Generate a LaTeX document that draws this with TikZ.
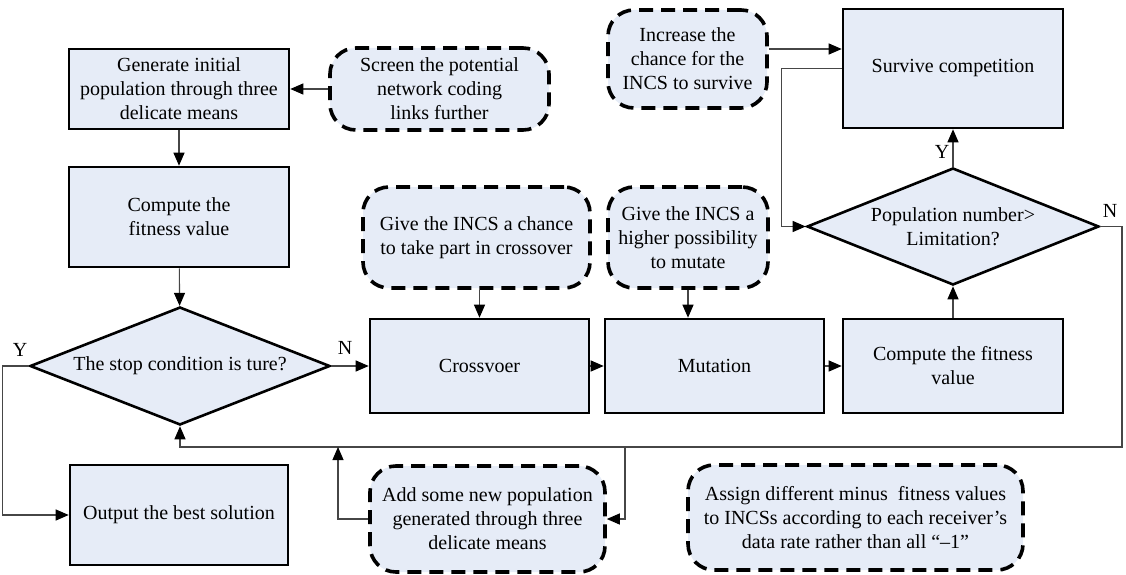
\documentclass[tikz,border=0pt]{standalone}
\usepackage{fontspec}
\setmainfont{Liberation Serif}
\newfontfamily\diagfont{Liberation Serif}
\usetikzlibrary{shapes.geometric,arrows.meta}
\definecolor{boxfill}{RGB}{230,236,247}
\definecolor{wire}{RGB}{70,70,70}
\begin{document}
\begin{tikzpicture}[x=1pt,y=-1pt,
  font=\diagfont\fontsize{20}{24}\selectfont,
  procbox/.style={draw=black,line width=2.6pt,fill=boxfill,align=center,inner sep=0pt},
  notebox/.style={draw=black,line width=3.6pt,dash pattern=on 14pt off 8pt,
    rounded corners=26pt,fill=boxfill,align=center,inner sep=0pt},
  decision/.style={diamond,draw=black,line width=2.6pt,fill=boxfill,align=center,
    inner sep=0pt,aspect=2.5},
  flow/.style={draw=wire,line width=1.1pt,
    -{Triangle[length=13pt,width=11pt,color=black]}},
  tag/.style={inner sep=0pt}]
\useasboundingbox (0,0) rectangle (1126,575);

% main process boxes
\node[procbox,minimum width=220pt,minimum height=80pt]  (gen)  at (179,89)
  {Generate initial\\population through three\\delicate means};
\node[procbox,minimum width=220pt,minimum height=100pt] (fit1) at (179,217)
  {Compute the\\fitness value};
\node[decision,minimum width=300pt,minimum height=118pt] (stop) at (180,366)
  {The stop condition is ture?};
\node[procbox,minimum width=218pt,minimum height=100pt] (out)  at (179,515)
  {Output the best solution};
\node[procbox,minimum width=219pt,minimum height=94pt]  (cross) at (479.5,366)
  {Crossvoer};
\node[procbox,minimum width=219pt,minimum height=94pt]  (mut)  at (714.5,366)
  {Mutation};
\node[procbox,minimum width=220pt,minimum height=94pt]  (fit2) at (953,366)
  {Compute the fitness\\value};
\node[decision,minimum width=292pt,minimum height=117pt] (lim) at (953,226.5)
  {Population number>\\Limitation?};
\node[procbox,minimum width=220pt,minimum height=119pt] (surv) at (953,68.5)
  {Survive competition};

% improvement notes
\node[notebox,minimum width=219pt,minimum height=82pt]  (screen) at (439.5,89)
  {Screen the potential\\network coding\\links further};
\node[notebox,minimum width=159pt,minimum height=98pt]  (incr) at (687.5,59)
  {Increase the\\chance for the\\INCS to survive};
\node[notebox,minimum width=227pt,minimum height=101pt] (gcross) at (476.5,237.5)
  {Give the INCS a chance\\to take part in crossover};
\node[notebox,minimum width=160pt,minimum height=101pt] (gmut) at (688,237.5)
  {Give the INCS a\\higher possibility\\to mutate};
\node[notebox,minimum width=235pt,minimum height=106pt] (add) at (487.5,519)
  {Add some new population\\generated through three\\delicate means};
\node[notebox,minimum width=335pt,minimum height=105pt] (assign) at (855.5,517.5)
  {Assign different minus\ \ fitness values\\to INCSs according to each receiver’s\\data rate rather than all “–1”};

% branch labels
\node[tag] (ylab1) at (20,350) {Y};
\node[tag] (nlab1) at (345,348) {N};
\node[tag] (ylab2) at (942,152) {Y};
\node[tag] (nlab2) at (1110,211) {N};

% junction points of the feedback loop
\coordinate (loopR) at (1122,447);
\coordinate (brAdd) at (625,447);
\coordinate (inAdd) at (338,447);

% connectors
\draw[flow] (gen) -- (fit1);
\draw[flow] (fit1) -- (stop);
\draw[flow] (stop.east) -- (cross.west);
\draw[flow] (cross) -- (mut);
\draw[flow] (mut) -- (fit2);
\draw[flow] (fit2.north) -- (lim.south);
\draw[flow] (lim.north) -- (surv.south);
\draw[flow] (surv.west) -- ++(-60,0) |- (lim.west);
\draw[flow] (stop.west) -- ++(-26,0) |- (out.west);
\draw[flow] (screen.west) -- (gen.east);
\draw[flow] ([yshift=10pt]incr.east) -- ([yshift=10pt]incr.east -| surv.west);
\draw[flow] (gcross.south -| cross.north) -- (cross.north);
\draw[flow] (gmut.south) -- (gmut.south |- mut.north);
\draw[flow] (lim.east) -| (loopR) -- (loopR -| stop.south) -- (stop.south);
\draw[flow] (brAdd) |- (add.east);
\draw[flow] (add.west) -| (inAdd);
\end{tikzpicture}
\end{document}
